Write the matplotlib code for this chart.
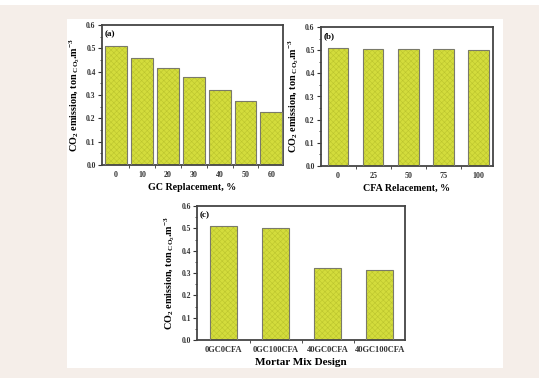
import matplotlib
matplotlib.use("Agg")
import matplotlib.pyplot as plt
from matplotlib.patches import Rectangle
from matplotlib.ticker import MultipleLocator
import numpy as np

gc_labels = ["0", "10", "20", "30", "40", "50", "60"]
gc_values = [0.510, 0.460, 0.417, 0.378, 0.321, 0.273, 0.226]

cfa_labels = ["0", "25", "50", "75", "100"]
cfa_values = [0.510, 0.507, 0.505, 0.503, 0.501]

mix_labels = ["0GC0CFA", "0GC100CFA", "40GC0CFA", "40GC100CFA"]
mix_values = [0.510, 0.501, 0.322, 0.313]

plt.rcParams['font.family'] = ['Liberation Serif', 'DejaVu Serif']
plt.rcParams['font.weight'] = 'bold'
plt.rcParams['mathtext.fontset'] = 'custom'
plt.rcParams['mathtext.rm'] = 'Liberation Serif:bold'
plt.rcParams['mathtext.it'] = 'Liberation Serif:bold'
plt.rcParams['mathtext.bf'] = 'Liberation Serif:bold'
plt.rcParams['hatch.linewidth'] = 0.4

W, H = 539, 378
fig = plt.figure(figsize=(W / 100, H / 100), dpi=100)
fig.patch.set_facecolor('white')
fig.patches.append(Rectangle((0, 0), 1, 1 - 5 / H, transform=fig.transFigure,
                             facecolor='#f5eee9', edgecolor='none', zorder=-10))
fig.patches.append(Rectangle((67 / W, 1 - 368 / H), (503 - 67) / W, (368 - 19) / H,
                             transform=fig.transFigure, facecolor='white',
                             edgecolor='none', zorder=-9))

BAR = '#d3dc3c'
HATCH = '#bcc52e'
EDGE = '#7a7a6a'
YLABEL = r'CO$_2$ emission, ton$_{\ CO_2}$.m$^{-3}$'


def panel(rect, labels, values, width, xlim, xlabel, tag, xlsize, ticksize):
    ax = fig.add_axes(rect)
    x = np.arange(len(values))
    ax.bar(x, values, width=width, color=BAR, edgecolor=HATCH, hatch='xxxxxx',
           linewidth=0, zorder=2)
    ax.bar(x, values, width=width, fill=False, edgecolor=EDGE, linewidth=0.8, zorder=3)
    ax.set_xlim(*xlim)
    ax.set_ylim(0, 0.6)
    ax.yaxis.set_major_locator(MultipleLocator(0.1))
    ax.yaxis.set_minor_locator(MultipleLocator(0.05))
    ax.set_yticks(np.arange(0, 0.61, 0.1))
    ax.set_yticklabels([f"{v:.1f}" for v in np.arange(0, 0.61, 0.1)])
    ax.set_xticks(x)
    ax.set_xticklabels(labels)
    ax.set_xticks(x[:-1] + 0.5, minor=True)
    ax.tick_params(axis='y', which='major', direction='out', length=3,
                   width=0.8, labelsize=5.5, pad=1.5, colors='#333333')
    ax.tick_params(axis='both', which='minor', direction='out', length=1.8,
                   width=0.6, colors='#333333')
    ax.tick_params(axis='x', which='major', length=0, pad=4, labelsize=ticksize,
                   colors='#333333')
    for s in ax.spines.values():
        s.set_linewidth(1.3)
        s.set_color('#444444')
    ax.set_xlabel(xlabel, fontsize=xlsize, fontweight='bold', labelpad=3)
    ax.set_ylabel(YLABEL, fontsize=7.3, fontweight='bold', labelpad=3)
    ax.text(0.015, 0.965, tag, transform=ax.transAxes, fontsize=6.5,
            fontweight='bold', va='top', ha='left')
    ax.set_facecolor('white')
    return ax


panel([102 / W, 1 - 165 / H, 181 / W, 140 / H], gc_labels, gc_values, 0.85,
      (-0.55, 6.45), 'GC Replacement, %', '(a)', 7.2, 5.8)
panel([321 / W, 1 - 166 / H, 172 / W, 139 / H], cfa_labels, cfa_values, 0.58,
      (-0.49, 4.41), 'CFA Relacement, %', '(b)', 7.2, 5.8)
panel([197 / W, 1 - 340 / H, 208 / W, 134 / H], mix_labels, mix_values, 0.52,
      (-0.51, 3.49), 'Mortar Mix Design', '(c)', 8, 6)

fig.savefig('out.png', dpi=100, facecolor=fig.get_facecolor())
